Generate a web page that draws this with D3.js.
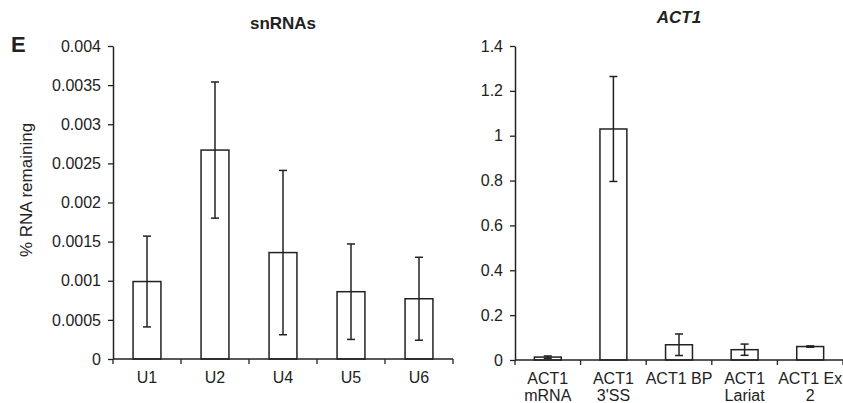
<!DOCTYPE html>
<html>
<head>
<meta charset="utf-8">
<script src="https://cdn.jsdelivr.net/npm/d3@7"></script>
<style>
  body { margin: 0; background: #fff; }
  svg { display: block; font-family: "Liberation Sans", Arial, sans-serif; }
</style>
</head>
<body>
<div id="chart"></div>
<script>
// snRNAs panel
const snCategories = ['U1', 'U2', 'U4', 'U5', 'U6'];
const snMeans = [0.00099, 0.00267, 0.00136, 0.00086, 0.00077];
const snErrors = [0.00058, 0.00087, 0.00105, 0.00061, 0.00053];
const snTicks = [0, 0.0005, 0.001, 0.0015, 0.002, 0.0025, 0.003, 0.0035, 0.004];
const snTickLabels = ['0', '0.0005', '0.001', '0.0015', '0.002', '0.0025', '0.003', '0.0035', '0.004'];

// ACT1 panel
const actCategories = [['ACT1', 'mRNA'], ['ACT1', "3'SS"], ['ACT1 BP'], ['ACT1', 'Lariat'], ['ACT1 Ex', '2']];
const actMeans = [0.013, 1.03, 0.068, 0.046, 0.06];
const actErrors = [0.005, 0.234, 0.048, 0.025, 0.003];
const actTicks = [0, 0.2, 0.4, 0.6, 0.8, 1, 1.2, 1.4];
const actTickLabels = ['0', '0.2', '0.4', '0.6', '0.8', '1', '1.2', '1.4'];

const width = 843;
const height = 403;
const ink = '#222';
const tickFont = '16px';

const svg = d3.select('#chart').append('svg')
  .attr('width', width)
  .attr('height', height);

function drawPanel(opts) {
  const g = svg.append('g');
  const x = d3.scaleBand()
    .domain(d3.range(opts.means.length))
    .range([opts.left, opts.right])
    .padding(0);
  const y = d3.scaleLinear().domain(opts.domain).range([opts.bottom, opts.top]);
  const barW = x.bandwidth() * 0.41;

  // y axis
  const yAxis = d3.axisLeft(y)
    .tickValues(opts.ticks)
    .tickFormat((d, i) => opts.tickLabels[i])
    .tickSize(5)
    .tickSizeOuter(0)
    .tickPadding(7);
  const ya = g.append('g')
    .attr('transform', `translate(${opts.left},0)`)
    .call(yAxis);
  ya.select('.domain').attr('stroke', ink).attr('stroke-width', 1.5);
  ya.selectAll('.tick line').attr('stroke', ink).attr('stroke-width', 1.3);
  ya.selectAll('.tick text')
    .attr('fill', ink)
    .style('font-size', tickFont);

  // bars
  g.selectAll('rect.bar')
    .data(opts.means)
    .join('rect')
    .attr('class', 'bar')
    .attr('x', (d, i) => x(i) + (x.bandwidth() - barW) / 2)
    .attr('y', d => y(d))
    .attr('width', barW)
    .attr('height', d => y(0) - y(d))
    .attr('fill', '#fff')
    .attr('stroke', ink)
    .attr('stroke-width', 1.5);

  // error bars
  const cap = 4;
  const err = g.selectAll('g.err')
    .data(opts.means.map((m, i) => ({ m, e: opts.errors[i], i })))
    .join('g')
    .attr('class', 'err')
    .attr('stroke', ink)
    .attr('stroke-width', 1.5);
  err.append('line')
    .attr('x1', d => x(d.i) + x.bandwidth() / 2)
    .attr('x2', d => x(d.i) + x.bandwidth() / 2)
    .attr('y1', d => y(d.m + d.e))
    .attr('y2', d => y(Math.max(d.m - d.e, 0)));
  err.append('line')
    .attr('x1', d => x(d.i) + x.bandwidth() / 2 - cap)
    .attr('x2', d => x(d.i) + x.bandwidth() / 2 + cap)
    .attr('y1', d => y(d.m + d.e))
    .attr('y2', d => y(d.m + d.e));
  err.append('line')
    .attr('x1', d => x(d.i) + x.bandwidth() / 2 - cap)
    .attr('x2', d => x(d.i) + x.bandwidth() / 2 + cap)
    .attr('y1', d => y(Math.max(d.m - d.e, 0)))
    .attr('y2', d => y(Math.max(d.m - d.e, 0)));

  // x axis line and boundary ticks
  g.append('line')
    .attr('x1', opts.left).attr('x2', opts.right)
    .attr('y1', y(0)).attr('y2', y(0))
    .attr('stroke', ink).attr('stroke-width', 1.5);
  const bounds = d3.range(opts.means.length + 1).map(i => i < opts.means.length ? x(i) : opts.right);
  g.selectAll('line.xtick')
    .data(bounds)
    .join('line')
    .attr('class', 'xtick')
    .attr('x1', d => d).attr('x2', d => d)
    .attr('y1', y(0)).attr('y2', y(0) + 5)
    .attr('stroke', ink).attr('stroke-width', 1.3);

  // category labels
  const labels = g.selectAll('text.cat')
    .data(opts.categories)
    .join('text')
    .attr('class', 'cat')
    .attr('text-anchor', 'middle')
    .attr('fill', ink)
    .style('font-size', tickFont);
  labels.each(function (d, i) {
    const lines = Array.isArray(d) ? d : [d];
    d3.select(this).selectAll('tspan')
      .data(lines)
      .join('tspan')
      .attr('x', x(i) + x.bandwidth() / 2)
      .attr('y', (l, k) => y(0) + 24 + k * 17)
      .text(l => l);
  });

  // title
  g.append('text')
    .attr('x', opts.titleX)
    .attr('y', opts.titleY)
    .attr('text-anchor', 'middle')
    .attr('fill', ink)
    .style('font-size', '17px')
    .style('font-weight', 'bold')
    .style('font-style', opts.italic ? 'italic' : 'normal')
    .text(opts.title);
}

drawPanel({
  categories: snCategories,
  means: snMeans,
  errors: snErrors,
  ticks: snTicks,
  tickLabels: snTickLabels,
  domain: [0, 0.004],
  left: 113, right: 453, top: 46, bottom: 359,
  title: 'snRNAs', titleX: 283, titleY: 29, italic: false
});

drawPanel({
  categories: actCategories,
  means: actMeans,
  errors: actErrors,
  ticks: actTicks,
  tickLabels: actTickLabels,
  domain: [0, 1.4],
  left: 515, right: 843, top: 46, bottom: 360,
  title: 'ACT1', titleX: 679, titleY: 23, italic: true
});

// panel letter
svg.append('text')
  .attr('x', 11).attr('y', 52)
  .attr('fill', ink)
  .style('font-size', '22px')
  .style('font-weight', 'bold')
  .text('E');

// y axis title
svg.append('text')
  .attr('transform', 'translate(32,190) rotate(-90)')
  .attr('text-anchor', 'middle')
  .attr('fill', ink)
  .style('font-size', '17px')
  .text('% RNA remaining');
</script>
</body>
</html>
